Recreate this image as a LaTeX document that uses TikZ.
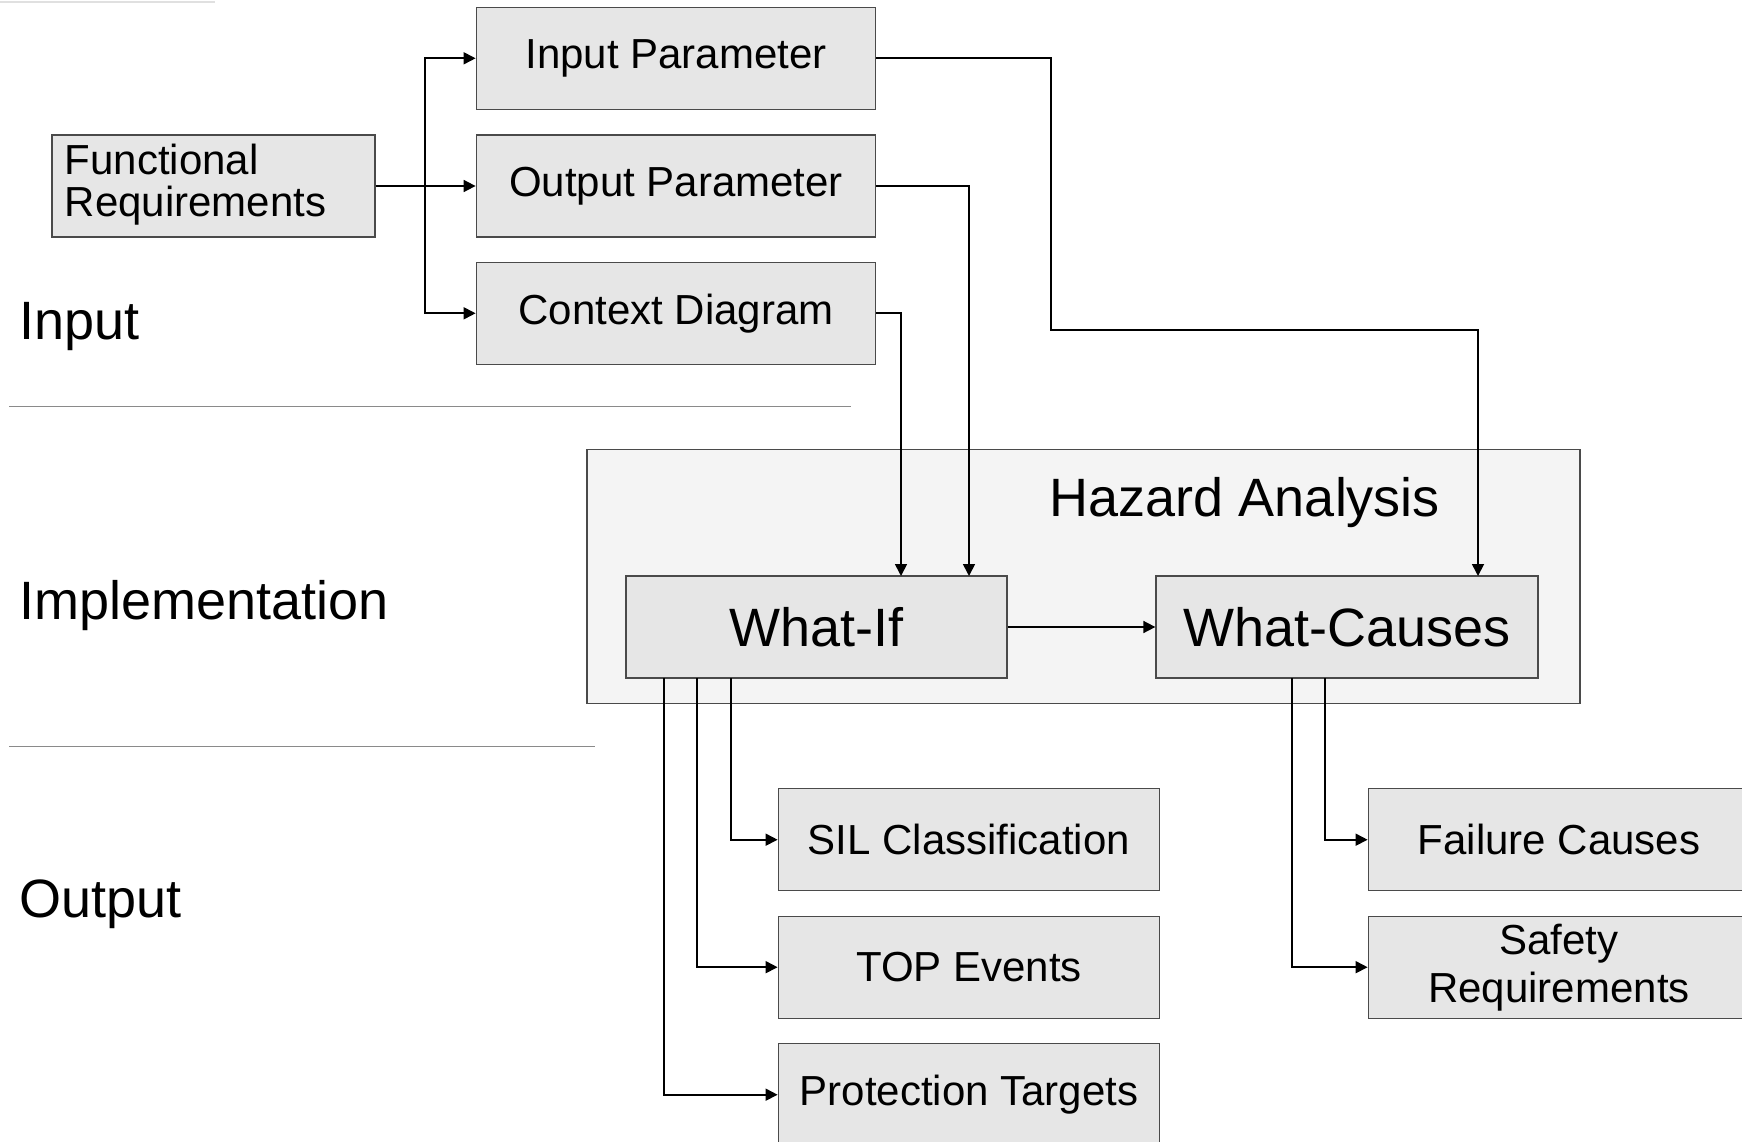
\documentclass[tikz,border=0pt]{standalone}
\usepackage{fontspec}
\setmainfont{Liberation Sans}
\usetikzlibrary{arrows.meta}
\definecolor{boxfill}{HTML}{E6E6E6}
\definecolor{hafill}{HTML}{F4F4F4}
\definecolor{boxline}{HTML}{4A4A4A}
\definecolor{sepline}{HTML}{8A8A8A}
\tikzset{
  box/.style={draw=boxline, fill=boxfill, line width=1.3pt, inner sep=0pt,
    minimum width=#1, minimum height=102pt, font=\fontsize{42}{45}\selectfont, align=center},
  box/.default=399.5pt,
  conn/.style={line width=1.7pt, -{Triangle[length=12pt,width=12pt]}},
  sep/.style={draw=sepline, line width=1.5pt},
  side/.style={anchor=base west, inner sep=0pt, font=\fontsize{54}{60}\selectfont},
}
\begin{document}
\begin{tikzpicture}[x=1pt,y=-1pt]
\useasboundingbox (0,0) rectangle (1742,1142);
\fill[white] (0,0) rectangle (1742,1142);
\draw[draw=black!12, line width=2pt] (0,2) -- (215,2);

% side labels and separators
\node[side] (linput) at (19,339) {Input};
\node[side] (limpl) at (19,619) {Implementation};
\node[side] (loutput) at (19,917) {Output};
\coordinate (s1a) at (9,406.7);
\coordinate (s1b) at (851,406.7);
\coordinate (s2a) at (9,746.6);
\coordinate (s2b) at (595,746.6);
\draw[sep] (s1a) -- (s1b);
\draw[sep] (s2a) -- (s2b);

% hazard analysis container
\node[draw=boxline, fill=hafill, line width=1.3pt, minimum width=993pt, minimum height=254pt, inner sep=0pt] (ha) at (1083.5,576.5) {};
\node[anchor=base, inner sep=0pt, font=\fontsize{54}{60}\selectfont] (hat) at (1245,516) {Hazard Analysis};

% input boxes
\node[box=323pt] (fr) at (213.5,186) {};
\node[anchor=base west, inner sep=0pt, align=left, font=\fontsize{42}{41.7}\selectfont] (frt) at (64.5,216.7) {Functional\\Requirements};
\node[box] (ip) at (676,58.3) {Input Parameter};
\node[box] (op) at (676,186) {Output Parameter};
\node[box] (cd) at (676,313.3) {Context Diagram};

% implementation boxes
\node[box=381pt, font=\fontsize{54}{60}\selectfont] (wi) at (816.5,627) {What-If};
\node[box=382pt, font=\fontsize{54}{60}\selectfont] (wc) at (1347,627) {What-Causes};

% output boxes
\node[box=381.5pt] (sil) at (969,839.7) {SIL Classification};
\node[box=381.5pt] (top) at (969,967.2) {TOP Events};
\node[box=381.5pt] (pt) at (969,1094.7) {Protection Targets};
\node[box=381.5pt] (fc) at (1559,839.7) {Failure Causes};
\node[box=381.5pt, font=\fontsize{42}{48}\selectfont] (sr) at (1559,967.2) {Safety\\Requirements};

% connectors: input
\coordinate (br) at (425,186);
\draw[conn] (fr.east) -- (op.west);
\draw[conn] (br) |- (ip.west);
\draw[conn] (br) |- (cd.west);

\coordinate (k1) at (1051,330);
\coordinate (wcin) at (1478,576);
\coordinate (wiin1) at (901,576);
\coordinate (wiin2) at (969,576);
\draw[conn] (ip.east) -| (k1) -| (wcin);
\draw[conn] (op.east) -| (wiin2);
\draw[conn] (cd.east) -| (wiin1);

\draw[conn] (wi.east) -- (wc.west);

% connectors: output
\coordinate (wo1) at (731,678);
\coordinate (wo2) at (697,678);
\coordinate (wo3) at (664,678);
\coordinate (co1) at (1325,678);
\coordinate (co2) at (1292,678);
\draw[conn] (wo1) |- (sil.west);
\draw[conn] (wo2) |- (top.west);
\draw[conn] (wo3) |- (pt.west);
\draw[conn] (co1) |- (fc.west);
\draw[conn] (co2) |- (sr.west);
\end{tikzpicture}
\end{document}
